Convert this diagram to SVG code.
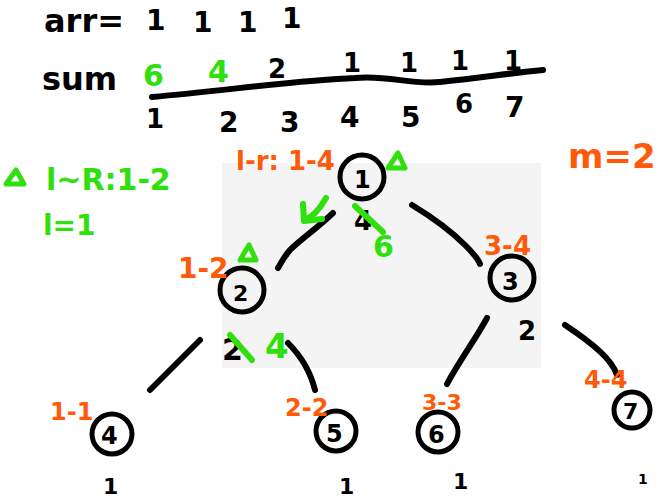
<svg xmlns="http://www.w3.org/2000/svg" width="672" height="500" viewBox="0 0 672 500">
<defs>
<style>
.k{fill:#000}
.g{fill:#2fe00c}
.o{fill:#ff5a0a}
text{font-family:"DejaVu Sans",sans-serif;font-weight:bold}
.ln{fill:none;stroke:#000;stroke-width:6;stroke-linecap:round;stroke-linejoin:round}
.gl{fill:none;stroke:#2fe00c;stroke-width:6;stroke-linecap:round;stroke-linejoin:round}
.nc{fill:none;stroke:#000;stroke-width:5;stroke-linecap:round}
.tri{fill:none;stroke:#2fe00c;stroke-width:5;stroke-linejoin:round}
</style>
</defs>
<rect x="222" y="163" width="319" height="205" fill="#f4f4f4"/>
<g id="header">
<text x="44" y="32" font-size="32" class="k">arr=</text>
<text x="146" y="30" font-size="28" class="k">1</text>
<text x="193" y="32" font-size="28" class="k">1</text>
<text x="238" y="32" font-size="28" class="k">1</text>
<text x="282" y="28" font-size="28" class="k">1</text>
<text x="42" y="90" font-size="32" class="k">sum</text>
<text x="143" y="86" font-size="30" class="g">6</text>
<text x="208" y="82" font-size="30" class="g">4</text>
<text x="268" y="78" font-size="26" class="k">2</text>
<text x="343" y="72" font-size="26" class="k">1</text>
<text x="400" y="72" font-size="26" class="k">1</text>
<text x="451" y="70" font-size="26" class="k">1</text>
<text x="504" y="70" font-size="26" class="k">1</text>
<path class="ln" d="M152 97 C230 90 300 80 355 78 C390 75 410 85 440 82 C480 78 510 73 543 70"/>
<text x="146" y="128" font-size="26" class="k">1</text>
<text x="219" y="132" font-size="28" class="k">2</text>
<text x="280" y="132" font-size="28" class="k">3</text>
<text x="340" y="127" font-size="28" class="k">4</text>
<text x="401" y="127" font-size="28" class="k">5</text>
<text x="455" y="113" font-size="26" class="k">6</text>
<text x="505" y="117" font-size="28" class="k">7</text>
</g>
<g id="notes">
<path class="tri" d="M6 184 L16 170 L24 184 Z"/>
<text x="46" y="190" font-size="30" class="g">l~R:1-2</text>
<text x="43" y="235" font-size="28" class="g">l=1</text>
<text x="568" y="168" font-size="34" class="o">m=2</text>
</g>
<g id="connectors">
<path class="ln" d="M333 213 C315 230 300 240 290 250 C283 258 280 265 278 268"/>
<path class="ln" d="M412 205 C440 222 455 235 465 245 C472 252 478 258 480 264"/>
<path class="ln" d="M200 340 C185 355 170 370 152 388 L150 390"/>
<path class="ln" d="M288 343 C300 355 310 370 315 390"/>
<path class="ln" d="M487 318 C475 340 460 360 447 384"/>
<path class="ln" d="M565 325 C595 345 612 360 617 375"/>
</g>
<g id="n1">
<circle cx="362" cy="177" r="22" class="nc"/>
<text x="354" y="188" font-size="24" class="k">1</text>
<text x="236" y="170" font-size="26" class="o">l-r: 1-4</text>
<path class="tri" d="M388 168 L398 153 L405 168 Z"/>
<path class="gl" d="M326 198 C318 212 310 218 305 220 M303 204 L304 221 L322 219"/>
<text x="354" y="230" font-size="26" class="k">4</text>
<path class="gl" d="M355 206 L383 232"/>
<text x="373" y="257" font-size="30" class="g">6</text>
</g>
<g id="n2">
<circle cx="242" cy="290" r="22" class="nc"/>
<text x="233" y="301" font-size="22" class="k">2</text>
<text x="178" y="278" font-size="28" class="o">1-2</text>
<path class="tri" d="M240 260 L249 245 L256 260 Z"/>
<text x="222" y="360" font-size="30" class="k">2</text>
<path class="gl" d="M230 335 L252 360"/>
<text x="265" y="358" font-size="34" class="g">4</text>
</g>
<g id="n3">
<circle cx="512" cy="278" r="22" class="nc"/>
<text x="502" y="290" font-size="24" class="k">3</text>
<text x="484" y="255" font-size="26" class="o">3-4</text>
<text x="518" y="340" font-size="26" class="k">2</text>
</g>
<g id="n4">
<circle cx="112" cy="434" r="20" class="nc"/>
<text x="101" y="444" font-size="24" class="k">4</text>
<text x="50" y="420" font-size="24" class="o">1-1</text>
<text x="103" y="494" font-size="22" class="k">1</text>
</g>
<g id="n5">
<circle cx="336" cy="431" r="20" class="nc"/>
<text x="326" y="442" font-size="24" class="k">5</text>
<text x="285" y="416" font-size="24" class="o">2-2</text>
<text x="339" y="494" font-size="22" class="k">1</text>
</g>
<g id="n6">
<circle cx="438" cy="432" r="20" class="nc"/>
<text x="428" y="443" font-size="24" class="k">6</text>
<text x="422" y="410" font-size="22" class="o">3-3</text>
<text x="453" y="489" font-size="22" class="k">1</text>
</g>
<g id="n7">
<circle cx="632" cy="410" r="18" class="nc"/>
<text x="623" y="419" font-size="22" class="k">7</text>
<text x="584" y="388" font-size="24" class="o">4-4</text>
<text x="638" y="484" font-size="14" class="k">1</text>
</g>
</svg>
